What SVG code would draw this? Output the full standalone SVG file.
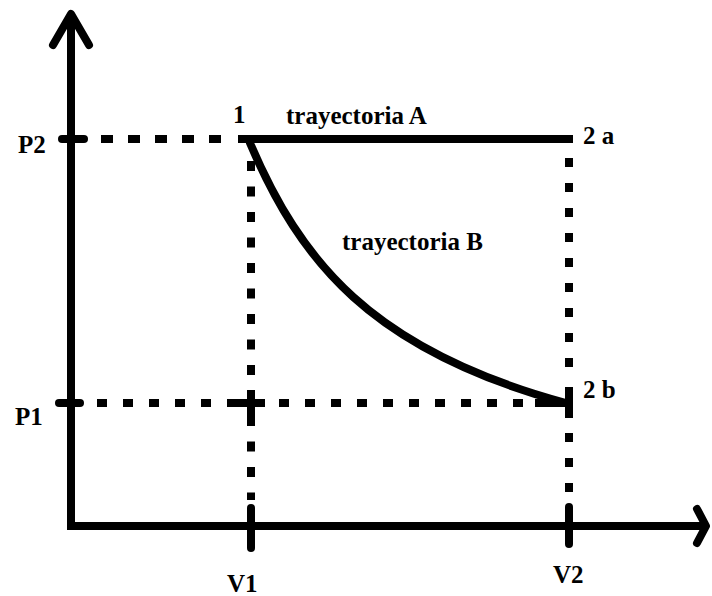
<svg xmlns="http://www.w3.org/2000/svg" width="712" height="596" viewBox="0 0 712 596">
  <style>
    .lbl { font-family: "Liberation Serif", "Times New Roman", serif; font-weight: bold; font-size: 25px; fill: #000; }
    .solid { fill: none; stroke: #000; stroke-width: 8; stroke-linecap: round; stroke-linejoin: round; }
    .solidb { fill: none; stroke: #000; stroke-width: 8; stroke-linecap: butt; }
    .dot { fill: none; stroke: #000; stroke-width: 8; stroke-linecap: butt; }
  </style>
  <rect width="712" height="596" fill="#fff"/>

  <g id="axes">
    <path d="M71 14 L71 526 L706 526" fill="none" stroke="#000" stroke-width="8" stroke-linejoin="miter"/>
    <polyline class="solid" points="53,45 71,14 89,45"/>
    <polyline class="solid" points="697,509 706,526 697,543"/>
  </g>

  <g id="guides">
    <!-- P2 -->
    <line class="solid" x1="62" y1="139" x2="84" y2="139"/>
    <line class="dot" x1="101" y1="139" x2="222" y2="139" stroke-dasharray="12 15"/>
    <!-- P1 -->
    <line class="solid" x1="59" y1="403" x2="80" y2="403"/>
    <line class="dot" x1="97" y1="403" x2="524" y2="403" stroke-dasharray="10 16"/>
    <line class="solidb" x1="235" y1="403" x2="265" y2="403"/>
    <line class="solidb" x1="535" y1="403" x2="570" y2="403"/>
    <!-- V1 -->
    <line class="dot" x1="251" y1="161" x2="251" y2="500" stroke-dasharray="10 15.5"/>
    <line class="solidb" x1="251" y1="390" x2="251" y2="417"/>
    <line class="solid" x1="251" y1="508" x2="251" y2="548"/>
    <!-- V2 -->
    <line class="dot" x1="569" y1="158" x2="569" y2="368" stroke-dasharray="9 16"/>
    <line class="solidb" x1="569" y1="387" x2="569" y2="418"/>
    <line class="dot" x1="569" y1="433" x2="569" y2="492" stroke-dasharray="9 16"/>
    <line class="solid" x1="569" y1="507" x2="569" y2="544"/>
  </g>

  <g id="connectors">
    <line id="trayectoria-A" class="solidb" x1="238" y1="139" x2="573" y2="139"/>
    <path id="trayectoria-B" class="solid" d="M250 143 C 300 260, 370 350, 566 403"/>
  </g>

  <g id="node-1"><text class="lbl" x="233" y="123">1</text></g>
  <g id="node-2a"><text class="lbl" x="583" y="144">2 a</text></g>
  <g id="node-2b"><text class="lbl" x="583" y="398">2 b</text></g>
  <g id="label-A"><text class="lbl" x="286" y="124">trayectoria A</text></g>
  <g id="label-B"><text class="lbl" x="342" y="250">trayectoria B</text></g>
  <g id="label-P2"><text class="lbl" x="18" y="153">P2</text></g>
  <g id="label-P1"><text class="lbl" x="15" y="425">P1</text></g>
  <g id="label-V1"><text class="lbl" x="227" y="592">V1</text></g>
  <g id="label-V2"><text class="lbl" x="553" y="583">V2</text></g>
</svg>
